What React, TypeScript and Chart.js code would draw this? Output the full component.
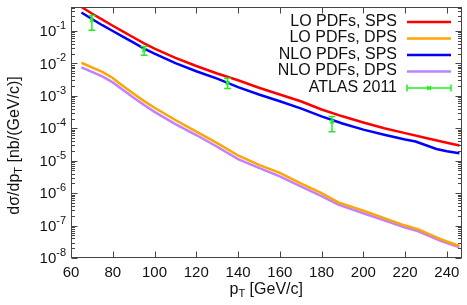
import { useEffect, useRef } from 'react';
import { Chart, registerables } from 'chart.js';
Chart.register(...registerables);

const FONT = '"Liberation Sans", Arial, Helvetica, sans-serif';

// pT grids and cross sections [nb/(GeV/c)]
const pTLoSps = [65, 70, 75, 80, 85, 90, 95, 100, 110, 120, 130, 140, 150, 160, 170, 180, 190, 200, 210, 220, 230, 240, 246];
const loSps = [0.55, 0.347, 0.224, 0.145, 0.0955, 0.0631, 0.0417, 0.0288, 0.0148, 0.00832, 0.0049, 0.00302, 0.00178, 0.0011, 6.8e-4, 3.8e-4, 2.34e-4, 1.51e-4, 1.0e-4, 7.1e-5, 5.0e-5, 3.6e-5, 2.95e-5];

const pTNloSps = [65, 70, 75, 80, 85, 90, 95, 100, 110, 120, 130, 140, 150, 160, 170, 180, 190, 200, 210, 220, 225, 230, 235, 240, 246];
const nloSps = [0.372, 0.234, 0.151, 0.1, 0.066, 0.0437, 0.0288, 0.02, 0.0102, 0.00575, 0.00339, 0.00186, 0.0011, 6.8e-4, 4.1e-4, 2.34e-4, 1.41e-4, 9.1e-5, 6.3e-5, 4.5e-5, 3.9e-5, 3.0e-5, 2.3e-5, 1.95e-5, 1.7e-5];

const pTDps = [65, 70, 75, 80, 83, 90, 95, 100, 110, 120, 130, 140, 150, 160, 170, 180, 188, 200, 210, 220, 226, 237, 246];
const loDps = [0.0105, 0.0076, 0.0055, 0.00355, 0.0025, 0.00117, 6.9e-4, 4.3e-4, 1.8e-4, 7.9e-5, 3.5e-5, 1.45e-5, 7.4e-6, 4.2e-6, 2.0e-6, 1.0e-6, 5.2e-7, 2.9e-7, 1.7e-7, 1.0e-7, 7.8e-8, 3.8e-8, 2.35e-8];
const nloDps = [0.0076, 0.0055, 0.004, 0.0026, 0.00186, 8.7e-4, 5.2e-4, 3.2e-4, 1.35e-4, 6.2e-5, 2.7e-5, 1.12e-5, 6.0e-6, 3.3e-6, 1.62e-6, 8.1e-7, 4.4e-7, 2.4e-7, 1.45e-7, 8.7e-8, 6.8e-8, 3.4e-8, 2.15e-8];

const atlasPT = [70, 95, 135, 185];
const atlasVal = [0.22, 0.026, 0.0025, 1.6e-4];
const atlasHi = [0.3, 0.033, 0.0035, 2.3e-4];
const atlasLo = [0.105, 0.018, 0.0017, 7.8e-5];

const xTickVals = [60, 80, 100, 120, 140, 160, 180, 200, 220, 240];
const yTickExps = [-8, -7, -6, -5, -4, -3, -2, -1];

const legendLabels = ['LO PDFs, SPS', 'LO PDFs, DPS', 'NLO PDFs, SPS', 'NLO PDFs, DPS', 'ATLAS 2011'];
const colors = ['#ff0000', '#ffa500', '#0000ff', '#c080ff', '#22ee22'];

const X_MIN = 60;
const X_MAX = 247;
const Y_MIN = 1e-8;
const Y_MAX = 0.55;

type Part = { t: string; size: number; dy: number };

function drawRich(ctx: CanvasRenderingContext2D, parts: Part[], x: number, y: number, align: 'left' | 'center' | 'right') {
  let w = 0;
  for (const p of parts) {
    ctx.font = `${p.size}px ${FONT}`;
    w += ctx.measureText(p.t).width;
  }
  let cx = align === 'left' ? x : align === 'center' ? x - w / 2 : x - w;
  ctx.textAlign = 'left';
  ctx.textBaseline = 'middle';
  for (const p of parts) {
    ctx.font = `${p.size}px ${FONT}`;
    ctx.fillText(p.t, cx, y + p.dy);
    cx += ctx.measureText(p.t).width;
  }
}

const deco = {
  id: 'deco',
  afterDatasetsDraw(chart: any) {
    const { ctx, chartArea: a, scales } = chart;
    const x = scales.x;
    const y = scales.y;
    ctx.save();
    const green = colors[4];

    // error bars
    ctx.strokeStyle = green;
    ctx.lineWidth = 1.5;
    for (let i = 0; i < atlasPT.length; i++) {
      const px = x.getPixelForValue(atlasPT[i]);
      const ph = y.getPixelForValue(atlasHi[i]);
      const pl = y.getPixelForValue(atlasLo[i]);
      ctx.beginPath();
      ctx.moveTo(px, ph); ctx.lineTo(px, pl);
      ctx.moveTo(px - 3.5, ph); ctx.lineTo(px + 3.5, ph);
      ctx.moveTo(px - 3.5, pl); ctx.lineTo(px + 3.5, pl);
      ctx.stroke();
    }

    // border
    const L = Math.round(a.left) + 0.5;
    const R = Math.round(a.right) - 0.5;
    const T = Math.round(a.top) + 0.5;
    const B = Math.round(a.bottom) - 0.5;
    ctx.strokeStyle = '#444';
    ctx.lineWidth = 1;
    ctx.strokeRect(L, T, R - L, B - T);

    // x ticks
    ctx.fillStyle = '#111';
    ctx.beginPath();
    for (const v of xTickVals) {
      const px = Math.round(x.getPixelForValue(v)) + 0.5;
      ctx.moveTo(px, B); ctx.lineTo(px, B - 6);
      ctx.moveTo(px, T); ctx.lineTo(px, T + 6);
    }
    // y ticks
    for (const e of yTickExps) {
      for (let m = 1; m <= 9; m++) {
        const v = m * Math.pow(10, e);
        if (v > Y_MAX) break;
        const py = Math.round(y.getPixelForValue(v)) + 0.5;
        const len = m === 1 ? 6 : 3.5;
        ctx.moveTo(L, py); ctx.lineTo(L + len, py);
        ctx.moveTo(R, py); ctx.lineTo(R - len, py);
      }
    }
    ctx.stroke();

    // x labels
    for (const v of xTickVals) {
      const px = x.getPixelForValue(v);
      drawRich(ctx, [{ t: String(v), size: 15, dy: 0 }], px, a.bottom + 15, 'center');
    }
    // y labels
    for (const e of yTickExps) {
      const py = y.getPixelForValue(Math.pow(10, e));
      drawRich(ctx, [
        { t: '10', size: 15, dy: 1 },
        { t: '-' + String(-e), size: 11, dy: -5 },
      ], a.left - 5, py, 'right');
    }
    // x title
    drawRich(ctx, [
      { t: 'p', size: 16, dy: 0 },
      { t: 'T', size: 11, dy: 4 },
      { t: ' [GeV/c]', size: 16, dy: 0 },
    ], (a.left + a.right) / 2, a.bottom + 32, 'center');
    // y title
    ctx.save();
    ctx.translate(15, (a.top + a.bottom) / 2 + 13);
    ctx.rotate(-Math.PI / 2);
    drawRich(ctx, [
      { t: 'd\u03c3/dp', size: 16, dy: 0 },
      { t: 'T', size: 11, dy: 4 },
      { t: ' [nb/(GeV/c)]', size: 16, dy: 0 },
    ], 0, 0, 'center');
    ctx.restore();

    // legend
    const textRight = 397;
    const lx0 = 407;
    const lx1 = 451;
    for (let i = 0; i < legendLabels.length; i++) {
      const ly = 21.5 + i * 16.5;
      ctx.fillStyle = '#111';
      drawRich(ctx, [{ t: legendLabels[i], size: 16, dy: 0 }], textRight, ly, 'right');
      const lyl = ly + 0.5;
      ctx.strokeStyle = colors[i];
      if (i < 4) {
        ctx.lineWidth = 2.5;
        ctx.beginPath(); ctx.moveTo(lx0, lyl); ctx.lineTo(lx1, lyl); ctx.stroke();
      } else {
        ctx.lineWidth = 1.5;
        ctx.beginPath();
        ctx.moveTo(lx0, lyl); ctx.lineTo(lx1, lyl);
        ctx.moveTo(lx0, lyl - 3.5); ctx.lineTo(lx0, lyl + 3.5);
        ctx.moveTo(lx1, lyl - 3.5); ctx.lineTo(lx1, lyl + 3.5);
        const mx = (lx0 + lx1) / 2;
        ctx.moveTo(mx - 2, lyl - 2); ctx.lineTo(mx + 2, lyl + 2);
        ctx.moveTo(mx - 2, lyl + 2); ctx.lineTo(mx + 2, lyl - 2);
        ctx.stroke();
      }
    }
    ctx.restore();
  },
};

function pts(xs: number[], ys: number[]) {
  return xs.map((v, i) => ({ x: v, y: ys[i] }));
}

export default function App() {
  const ref = useRef<HTMLCanvasElement>(null);
  useEffect(() => {
    const canvas = ref.current!;
    const lineDs = (label: string, data: any[], color: string) => ({
      label,
      data,
      borderColor: color,
      backgroundColor: color,
      borderWidth: 2.5,
      pointRadius: 0,
      tension: 0,
      fill: false,
    });
    const chart = new Chart(canvas, {
      type: 'line',
      data: {
        datasets: [
          {
            label: legendLabels[4],
            data: pts(atlasPT, atlasVal),
            showLine: false,
            borderColor: colors[4],
            backgroundColor: colors[4],
            pointStyle: 'crossRot',
            pointRadius: 2.5,
            borderWidth: 1.5,
          } as any,
          lineDs(legendLabels[0], pts(pTLoSps, loSps), colors[0]),
          lineDs(legendLabels[1], pts(pTDps, loDps), colors[1]),
          lineDs(legendLabels[2], pts(pTNloSps, nloSps), colors[2]),
          lineDs(legendLabels[3], pts(pTDps, nloDps), colors[3]),
        ],
      },
      options: {
        responsive: false,
        animation: false,
        devicePixelRatio: 1,
        layout: { padding: { left: 0, top: 7, right: 4, bottom: 0 } },
        plugins: { legend: { display: false }, tooltip: { enabled: false } },
        events: [],
        scales: {
          x: {
            type: 'linear',
            min: X_MIN,
            max: X_MAX,
            grid: { display: false },
            border: { display: false },
            ticks: { display: false },
            afterFit: (s: any) => { s.height = 47; },
          },
          y: {
            type: 'logarithmic',
            min: Y_MIN,
            max: Y_MAX,
            grid: { display: false },
            border: { display: false },
            ticks: { display: false },
            afterFit: (s: any) => { s.width = 71; },
          },
        },
      },
      plugins: [deco],
    });
    return () => chart.destroy();
  }, []);
  return (
    <div style={{ position: 'fixed', left: 0, top: 0, width: 467, height: 305, background: '#fff' }}>
      <canvas ref={ref} width={467} height={305} style={{ display: 'block', width: 467, height: 305 }} />
    </div>
  );
}
